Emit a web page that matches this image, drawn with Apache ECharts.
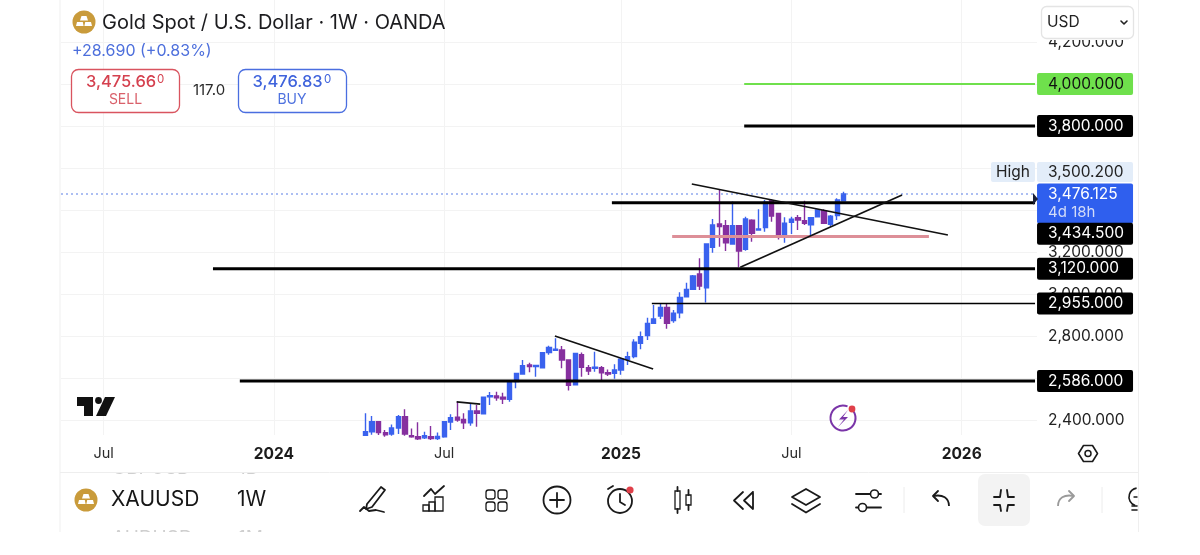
<!DOCTYPE html>
<html><head><meta charset="utf-8">
<style>html,body{margin:0;padding:0;background:#fff}#c{width:1200px;height:555px}</style>
<script src="https://cdn.jsdelivr.net/npm/echarts@6/dist/echarts.min.js"></script>
</head><body><div id="c"></div>
<script>
// Weekly candles, first candle is the week of 2024-04-01
const leadingEmptyWeeks = 46;
const totalWeeks = 149;
const opens  = [2327,2344,2392,2340,2333,2362,2416,2325,2320,2315,2320,2312,2320,2390,2413,2403,2387,2443,2429,2510,2514,2508,2498,2583,2619,2662,2654,2649,2721,2732,2733,2686,2568,2711,2649,2646,2649,2625,2622,2638,2689,2702,2765,2802,2860,2895,2936,2873,2911,2987,3022,3095,3030,3222,3333,3325,3238,3325,3213,3352,3305,3317,3444,3384,3276,3341,3363,3349,3330,3368,3397,3332,3373,3444];
const closes = [2344,2392,2340,2329,2362,2416,2333,2320,2310,2325,2312,2322,2392,2411,2400,2387,2443,2432,2508,2516,2506,2500,2583,2622,2659,2654,2660,2721,2746,2737,2686,2565,2717,2651,2633,2651,2625,2619,2638,2689,2702,2770,2797,2860,2881,2936,2860,2908,2984,3022,3086,3038,3238,3329,3321,3244,3325,3205,3357,3289,3310,3437,3371,3276,3337,3356,3352,3337,3363,3400,3337,3371,3448,3476.125];
const lows   = [2325,2330,2328,2320,2325,2333,2325,2315,2305,2310,2305,2305,2315,2352,2392,2357,2373,2368,2427,2471,2492,2476,2487,2551,2617,2627,2606,2646,2711,2730,2646,2540,2567,2606,2614,2630,2587,2610,2597,2616,2662,2694,2737,2781,2860,2881,2835,2863,2884,2987,3022,3019,2959,3197,3225,3205,3238,3127,3206,3249,3302,3297,3344,3260,3244,3286,3305,3329,3281,3365,3333,3321,3352,3444];
const highs  = [2432,2419,2392,2352,2378,2424,2451,2360,2389,2344,2371,2341,2394,2427,2487,2432,2476,2471,2511,2533,2535,2530,2586,2625,2686,2673,2660,2722,2754,2789,2752,2686,2717,2721,2662,2725,2657,2641,2665,2694,2725,2784,2821,2887,2948,2956,2956,2924,3008,3054,3090,3170,3241,3357,3500.2,3352,3440,3325,3368,3356,3403,3448,3451,3387,3365,3368,3376,3444,3363,3403,3403,3376,3456,3487];

const priceTicks = [2400,2600,2800,3000,3200,3400,3600,3800,4000,4200];
const priceLabels = [2400,2600,2800,3000,3200,3400,3800,4000,4200];
const timeTickWeeks  = [6.5,32.5,58.5,85.5,111.5,137.5];
const timeTickLabels = ['Jul','2024','Jul','2025','Jul','2026'];

// Horizontal levels: price, start week, line width, line colour, tag fill, tag text, tag shift
const levelPrices = [4000,3800,3434.5,3120,2955,2586];
const levelStarts = [104.3,104.3,84.1,23.2,90.2,27.3];
const levelWidths = [2,3,3,3,1.6,3];
const levelColors = ['#6fe04c','#000','#000','#000','#000','#000'];
const levelFills  = ['#6fe04c','#000','#000','#000','#000','#000'];
const levelTexts  = ['#111','#fff','#fff','#fff','#fff','#fff'];
const levelShifts = [0,0,31,0,0,0];
const levelEnd = 148.7;

// Drawn lines: [week, price] pairs
const fallingLong  = [[96.3,3524],[135.4,3281]];
const risingLong   = [[103.7,3127],[128.4,3471]];
const fallingMid   = [[75.4,2800],[90.4,2643]];
const fallingSmall = [[60.4,2486],[64,2476]];
const pinkZone     = [[93.3,3274],[132.5,3274]];
const lastPrice = 3476.125;

const weeks = [];
for (let i = 0; i < totalWeeks; i++) weeks.push('W' + i);
const candles = weeks.map((w, i) => {
  const k = i - leadingEmptyWeeks;
  return k >= 0 && k < opens.length ? [opens[k], closes[k], lows[k], highs[k]] : '-';
});
const fmt = v => v.toLocaleString('en-US', {minimumFractionDigits: 3, maximumFractionDigits: 3});
const FAMILY = 'Inter, "Noto Sans", sans-serif';
const FONT = FAMILY;

function lineSeries(data, color, width, extra) {
  return Object.assign({
    type: 'line', xAxisIndex: 1, yAxisIndex: 0, data, symbol: 'none', silent: true, z: 4, clip: false,
    lineStyle: {color, width, cap: 'butt'}, animation: false
  }, extra || {});
}
const series = [{
  type: 'candlestick', xAxisIndex: 0, yAxisIndex: 0, data: candles, barWidth: 4.8, z: 3, animation: false,
  itemStyle: {color: '#3a62ee', color0: '#86309f', borderColor: '#3a62ee', borderColor0: '#86309f', borderWidth: 1.4}
}];
series.push(lineSeries([[0, lastPrice],[levelEnd, lastPrice]], '#5b7fe6', 1, {
  z: 4, lineStyle: {color: '#5b7fe6', width: 1.2, type: [2, 3]},
  endLabel: {show: true, distance: 2, offset: [0, 9.5], align: 'left',
    width: 96, height: 40, backgroundColor: '#2f5fee', borderRadius: 2,
    formatter: '{a|' + fmt(lastPrice) + '}\n{b|4d 18h}',
    rich: {a: {color: '#fff', fontSize: 15.5, fontFamily: FAMILY, padding: [2,0,0,11], lineHeight: 19},
           b: {color: '#d3dcf8', fontSize: 15, fontFamily: FAMILY, padding: [0,0,0,11], lineHeight: 19}}}
}));
levelPrices.forEach((p, i) => {
  series.push(lineSeries([[levelStarts[i], p],[levelEnd, p]], levelColors[i], levelWidths[i], {
    z: 5,
    endLabel: {show: true, distance: 2, offset: [0, levelShifts[i]], formatter: fmt(p),
      color: levelTexts[i], backgroundColor: levelFills[i], borderRadius: 2,
      fontSize: 15.5, fontFamily: FAMILY, width: 85, padding: [3.5,0,3.5,11], lineHeight: 15}
  }));
});
series.push(lineSeries(pinkZone, '#dd8f98', 3));
series.push(lineSeries(fallingLong, '#111', 1.7, {z: 6}));
series.push(lineSeries(risingLong, '#111', 1.7, {z: 6}));
series.push(lineSeries(fallingMid, '#111', 1.7, {z: 6}));
series.push(lineSeries(fallingSmall, '#111', 1.7, {z: 6}));

// ---- interface chrome ----
const g = [];
const T = (text, x, y, size, fill, o) => g.push(Object.assign({type: 'text', z: 10, style: Object.assign({
  text, x, y, fill, font: (o && o.weight ? o.weight + ' ' : '') + size + 'px ' + FONT,
  textVerticalAlign: 'middle', textAlign: o && o.align || 'left'}, {})}, o && o.z != null ? {z: o.z} : {}));
const R = (x, y, w, h, fill, stroke, r, z) => g.push({type: 'rect', z: z == null ? 10 : z,
  shape: {x, y, width: w, height: h, r: r || 0}, style: {fill: fill || 'none', stroke: stroke || 'none', lineWidth: 1.3}});
const P = (points, stroke, w, fill, close) => g.push({type: close ? 'polygon' : 'polyline', z: 10,
  shape: {points}, style: {stroke: stroke || 'none', lineWidth: w || 2, fill: fill || 'none', lineCap: 'round', lineJoin: 'round'}});
const C = (cx, cy, r, stroke, w, fill) => g.push({type: 'circle', z: 10, shape: {cx, cy, r},
  style: {stroke: stroke || 'none', lineWidth: w || 2, fill: fill || 'none'}});
const A = (cx, cy, r, s, e, stroke, w) => g.push({type: 'arc', z: 10, shape: {cx, cy, r, startAngle: s, endAngle: e},
  style: {stroke, lineWidth: w, fill: 'none'}});
const ink = '#1a1a1a';

// page frame and ghost rows of the list behind the toolbar
T('GBPUSD', 112, 468, 19, '#cfcfcf', {z: 0});
T('1D', 238, 468, 19, '#cfcfcf', {z: 0});
T('AUDUSD', 112, 538, 19, '#cfcfcf', {z: 0});
T('1M', 238, 538, 19, '#cfcfcf', {z: 0});
R(61, 436, 1077, 37, '#fff', null, 0, 0);
R(0, 532, 1200, 23, '#fff', null, 0, 0);
g.push({type: 'line', z: 0, shape: {x1: 60, y1: 0, x2: 60, y2: 532}, style: {stroke: '#efefef', lineWidth: 1}});
g.push({type: 'line', z: 0, shape: {x1: 1138.5, y1: 0, x2: 1138.5, y2: 532}, style: {stroke: '#efefef', lineWidth: 1}});
g.push({type: 'line', z: 0, shape: {x1: 60, y1: 472.5, x2: 1138, y2: 472.5}, style: {stroke: '#eeeeee', lineWidth: 1}});

// header
const coin = (cx, cy, r) => {
  C(cx, cy, r, null, 0, '#c99b3b');
  P([[cx-2.5,cy-6],[cx+2.5,cy-6],[cx+4,cy-1.5],[cx-4,cy-1.5]], null, 0, '#fff', true);
  P([[cx-7,cy],[cx-1.2,cy],[cx-0.4,cy+4],[cx-8,cy+4]], null, 0, '#fff', true);
  P([[cx+1.2,cy],[cx+7,cy],[cx+8,cy+4],[cx+0.4,cy+4]], null, 0, '#fff', true);
};
coin(84, 22, 11.5);
T('Gold Spot / U.S. Dollar · 1W · OANDA', 102, 23, 20, '#1c1c1f');
T('+28.690 (+0.83%)', 72, 51, 16, '#4d6fdc');
R(71.5, 69.5, 108, 43, '#fff', '#d9545f', 7);
T('3,475.66', 86, 82, 16.5, '#d5414f', {weight: 500});
T('0', 157, 80, 11.5, '#d5414f');
T('SELL', 125.5, 100, 14, '#d9606a', {align: 'center'});
T('117.0', 209, 90, 15, '#2a2a2a', {align: 'center'});
R(238.5, 69.5, 108, 43, '#fff', '#4a6ee0', 7);
T('3,476.83', 252.5, 82, 16.5, '#3f63dc', {weight: 500});
T('0', 324, 80, 11.5, '#3f63dc');
T('BUY', 292, 100, 14, '#4f72df', {align: 'center'});

// price column chrome
R(1037, 0, 100, 40, '#fff');
R(1041.5, 6.5, 92, 32, '#fff', '#e4e4e4', 5);
T('USD', 1047, 22, 15.5, '#222');
P([[1121,21],[1124,24],[1127,21]], '#222', 1.6);
R(991, 162, 44, 20, '#e3edf9', null, 2);
R(1037, 162, 96, 20, '#e3edf9', null, 2);
T('High', 1013, 172, 15.5, '#222', {align: 'center'});
T('3,500.200', 1048, 172, 15.5, '#222');
P([[1033,193],[1038,199],[1033,205]], null, 0, '#1a2038', true);

// watermark logo
P([[77,397],[93,397],[93,416],[84,416],[84,406],[77,406]], null, 0, '#111', true);
C(98.5, 400.5, 3.4, null, 0, '#111');
P([[105,397],[115,397],[106,416],[96,416]], null, 0, '#111', true);

// lightning badge
A(843, 418, 12.5, -0.55, -1.1 + Math.PI*2 - 0.1, '#7a35a8', 2);
P([[848,410],[839,419.5],[844,419.5],[838,427],[848,417],[843,417]], null, 0, '#7a35a8', true);
C(852, 409, 3.4, null, 0, '#e0404a');

// settings hexagon on the time axis
P([[1078.5,453.5],[1083.5,445.5],[1092.5,445.5],[1097.5,453.5],[1092.5,461.5],[1083.5,461.5]], ink, 1.6, null, true);
C(1088, 453.5, 3, ink, 1.5);

// toolbar
coin(86, 500, 11.5);
T('XAUUSD', 111, 500, 21, '#161616');
T('1W', 237, 500, 21, '#161616');
// pen
P([[367,504],[381,487],[385,490],[372,507],[366,509],[367,504]], ink, 1.8);
P([[360,511],[364,507],[369,511],[376,510],[384,512]], ink, 1.8);
// chart bars
R(423, 505, 6, 6, null, ink);
R(429, 502, 6, 9, null, ink);
R(435, 497, 8, 14, null, ink);
P([[424,496],[431,489],[435,494],[444,486]], ink, 1.8);
// grid
[[486,490],[498,490],[486,502],[498,502]].forEach(c => R(c[0], c[1], 9, 9, null, ink, 2.5));
// plus
C(557, 500, 13.5, ink, 1.8);
P([[550,500],[564,500]], ink, 1.8); P([[557,493],[557,507]], ink, 1.8);
// alarm
C(620, 501, 12, ink, 1.8);
P([[620,494],[620,502],[625,505]], ink, 1.8);
P([[608,489],[613,486]], ink, 1.8);
C(630, 490, 3.6, null, 0, '#e0404a');
// candles
R(675, 491, 5, 18, null, ink);
P([[677.5,487],[677.5,491]], ink, 1.8); P([[677.5,509],[677.5,513]], ink, 1.8);
R(686, 495, 5, 10, null, ink);
P([[688.5,490],[688.5,495]], ink, 1.8); P([[688.5,505],[688.5,510]], ink, 1.8);
// rewind
P([[743,492],[734,500.5],[743,509]], ink, 1.8);
P([[753,492],[744,500.5],[753,509],[753,492]], ink, 1.8);
// layers
P([[806,489],[820,497],[806,505],[792,497]], ink, 1.8, null, true);
P([[792,504],[806,512.5],[820,504]], ink, 1.8);
// sliders
P([[856,494],[870,494]], ink, 1.8); P([[879,494],[881,494]], ink, 1.8);
C(874.5, 494, 4, ink, 1.6);
P([[856,507.5],[858,507.5]], ink, 1.8); P([[867,507.5],[881,507.5]], ink, 1.8);
C(862.5, 507.5, 4, ink, 1.6);
g.push({type: 'line', z: 10, shape: {x1: 904, y1: 487, x2: 904, y2: 513}, style: {stroke: '#ececec', lineWidth: 1}});
// undo
P([[938,491],[933,496],[938,501]], ink, 1.8);
g.push({type: 'bezierCurve', z: 10, shape: {x1: 933, y1: 496, cpx1: 943, cpy1: 494, cpx2: 949, cpy2: 498, x2: 949, y2: 506},
  style: {stroke: ink, lineWidth: 1.8, fill: 'none'}});
// compress button
R(978, 474, 52, 52, '#f3f3f3', null, 7);
P([[994,497],[1000,497],[1001,490]], ink, 1.8); P([[1014,497],[1008,497],[1007,490]], ink, 1.8);
P([[994,505],[1000,505],[1001,511]], ink, 1.8); P([[1014,505],[1008,505],[1007,511]], ink, 1.8);
// redo
P([[1069,491],[1074,496],[1069,501]], '#9a9a9a', 1.8);
g.push({type: 'bezierCurve', z: 10, shape: {x1: 1074, y1: 496, cpx1: 1064, cpy1: 494, cpx2: 1058, cpy2: 498, x2: 1058, y2: 506},
  style: {stroke: '#9a9a9a', lineWidth: 1.8, fill: 'none'}});
g.push({type: 'line', z: 10, shape: {x1: 1102, y1: 487, x2: 1102, y2: 513}, style: {stroke: '#ececec', lineWidth: 1}});
// bulb, cut by the frame
A(1138, 497, 9, Math.PI*0.6, Math.PI*1.45, ink, 1.6);
P([[1132,506],[1137,506]], ink, 1.6); P([[1132,510],[1137,510]], ink, 1.6);
P([[1134,497],[1137,497]], ink, 1.4);
R(1139, 480, 20, 40, '#fff');

const chart = echarts.init(document.getElementById('c'), null, {renderer: 'canvas'});
chart.setOption({
  animation: false,
  backgroundColor: '#fff',
  grid: {left: 61, top: 0, width: 976, height: 435, containLabel: false},
  xAxis: [
    {type: 'category', data: weeks, show: false, gridIndex: 0},
    {type: 'value', gridIndex: 0, min: 0, max: totalWeeks, position: 'bottom', z: 1,
     axisLine: {show: false},
     axisTick: {show: false, customValues: timeTickWeeks},
     splitLine: {show: true, lineStyle: {color: '#f3f3f3', width: 1}},
     axisLabel: {show: true, customValues: timeTickWeeks, margin: 11, color: '#2a2a2a',
       fontSize: 14.5, fontFamily: FAMILY, hideOverlap: false, showMinLabel: true, showMaxLabel: true,
       formatter: v => {
         const s = timeTickLabels[timeTickWeeks.indexOf(v)];
         return /^\d/.test(s) ? '{y|' + s + '}' : s;
       },
       rich: {y: {fontSize: 15.5, fontWeight: 700, fontFamily: FAMILY, color: '#1c1c1c'}}}}
  ],
  yAxis: {type: 'value', position: 'right', min: 2400 - 15 / 0.21, max: 4400, z: 1,
    axisLine: {show: false},
    axisTick: {show: false, customValues: priceTicks},
    splitLine: {show: true, lineStyle: {color: '#f3f3f3', width: 1}},
    axisLabel: {customValues: priceLabels, margin: 11, color: '#222', fontSize: 15.5, fontFamily: FAMILY,
      padding: [0,0,3,0], formatter: fmt}},
  graphic: {elements: g},
  series
});
</script></body></html>
